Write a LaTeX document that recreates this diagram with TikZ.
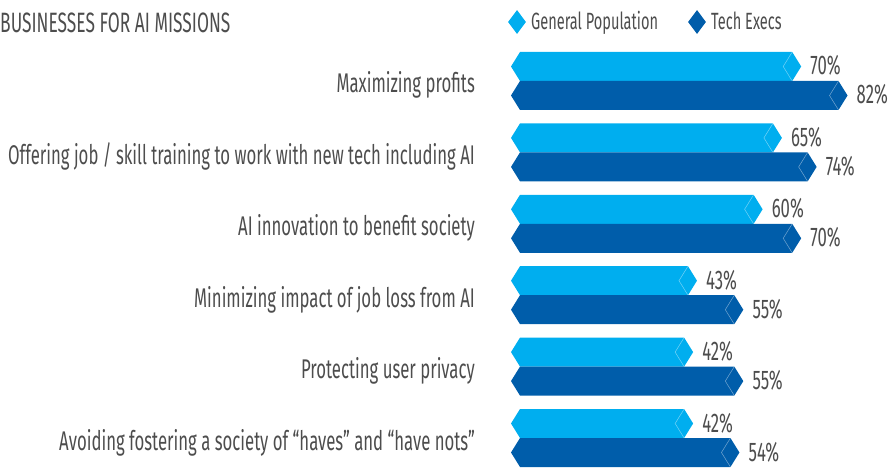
\documentclass[tikz,border=0pt]{standalone}
\usepackage{fontspec}
\setmainfont{Fira Sans}[FakeStretch=0.62]
\usetikzlibrary{positioning, shapes.geometric}

\definecolor{genpop}{HTML}{00AEEF}
\definecolor{techexec}{HTML}{005DAA}
\definecolor{textgray}{HTML}{4D4D4D}

\tikzset{
    lbl/.style={text=textgray, font=\fontsize{27}{27}\selectfont, inner sep=0pt},
    catlbl/.style={lbl, anchor=base east},
    pctlbl/.style={lbl, anchor=base west},
    leglbl/.style={lbl, anchor=base west, font=\fontsize{23.5}{23.5}\selectfont},
    legmark/.style={diamond, aspect=0.75, minimum width=18pt, minimum height=24pt, inner sep=0pt}
}

% one bar: colour, top y, value, name
\newcommand{\hexbar}[4]{%
    \pgfmathsetmacro{\tipx}{531+3.86*#3}
    \fill[#1] (511,#2+14.5) -- (520,#2) -- (\tipx-9,#2) -- (\tipx,#2+14.5)
        -- (\tipx-9,#2+29) -- (520,#2+29) -- cycle;
    \draw[white, opacity=0.45, line width=0.5pt] (\tipx-9,#2) -- (\tipx-18,#2+14.5) -- (\tipx-9,#2+29);
    \node[pctlbl] (#4) at (\tipx+9,#2+23) {#3\%};
}

\begin{document}
\begin{tikzpicture}[x=1pt, y=-1pt]
        \useasboundingbox (0,0) rectangle (889,470);

        % Title and legend
        \node[lbl, anchor=base west, font=\fontsize{28}{28}\selectfont] (title) at (0,33) {BUSINESSES FOR AI MISSIONS};
        \node[legmark, fill=genpop] (gpmark) at (517,22) {};
        \node[leglbl] (gplbl) at (531,29.5) {General Population};
        \node[legmark, fill=techexec] (temark) at (697,22) {};
        \node[leglbl] (telbl) at (711,29.5) {Tech Execs};

        % Categories
        \node[catlbl] (cat1) at (475,93) {Maximizing profits};
        \node[catlbl] (cat2) at (475,164.4) {Offering job / skill training to work with new tech including AI};
        \node[catlbl] (cat3) at (475,235.8) {AI innovation to benefit society};
        \node[catlbl] (cat4) at (475,307.2) {Minimizing impact of job loss from AI};
        \node[catlbl] (cat5) at (475,378.6) {Protecting user privacy};
        \node[catlbl] (cat6) at (475,450) {Avoiding fostering a society of “haves” and “have nots”};

        % Bars
        \hexbar{genpop}{52}{70}{gp1}
        \hexbar{techexec}{81}{82}{te1}
        \hexbar{genpop}{123.4}{65}{gp2}
        \hexbar{techexec}{152.4}{74}{te2}
        \hexbar{genpop}{194.8}{60}{gp3}
        \hexbar{techexec}{223.8}{70}{te3}
        \hexbar{genpop}{266.2}{43}{gp4}
        \hexbar{techexec}{295.2}{55}{te4}
        \hexbar{genpop}{337.6}{42}{gp5}
        \hexbar{techexec}{366.6}{55}{te5}
        \hexbar{genpop}{409}{42}{gp6}
        \hexbar{techexec}{438}{54}{te6}
    \end{tikzpicture}
\end{document}
